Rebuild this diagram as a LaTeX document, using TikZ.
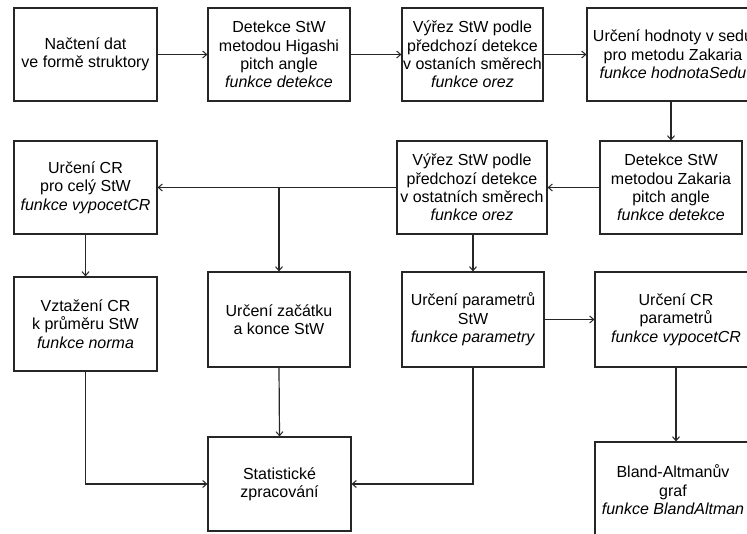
\documentclass[tikz,border=0pt]{standalone}
\usepackage{fontspec}
\setmainfont{Liberation Sans}
\usetikzlibrary{arrows.meta}
\begin{document}
\begin{tikzpicture}[x=1pt,y=-1pt,
  box/.style={draw=black!85, line width=1.2pt, rectangle, align=center, inner sep=0pt,
    font=\fontsize{16}{18.4}\selectfont, text=black},
  conn/.style={draw=black!85, line width=1.2pt, -{Straight Barb[length=4pt,width=7pt,line width=1pt]}},
  line/.style={draw=black!85, line width=1.2pt}]
\useasboundingbox (0,0) rectangle (747,533);
\clip (0,0) rectangle (747,533);
\fill[white] (0,0) rectangle (747,533);

\node[box, minimum width=143pt, minimum height=93pt] (A) at (85.5,54.5) {Načtení dat\\ve formě struktory};
\node[box, minimum width=142pt, minimum height=93pt] (B) at (279,54.5) {Detekce StW\\metodou Higashi\\pitch angle\\\textit{funkce detekce}};
\node[box, minimum width=141pt, minimum height=93pt] (C) at (472.5,54.5) {Výřez StW podle\\předchozí detekce\\v ostaních směrech\\\textit{funkce orez}};
\node[box, minimum width=172pt, minimum height=93pt] (D) at (673,54.5) {Určení hodnoty v sedu\\pro metodu Zakaria\\\textit{funkce hodnotaSedu}};

\node[box, minimum width=143pt, minimum height=93pt] (E) at (85.5,187.5) {Určení CR\\pro celý StW\\\textit{funkce vypocetCR}};
\node[box, minimum width=150pt, minimum height=93pt] (F) at (472,187.5) {Výřez StW podle\\předchozí detekce\\v ostatních směrech\\\textit{funkce orez}};
\node[box, minimum width=142pt, minimum height=93pt] (G) at (671,187.5) {Detekce StW\\metodou Zakaria\\pitch angle\\\textit{funkce detekce}};

\node[box, minimum width=143pt, minimum height=94pt] (J) at (85.5,324) {Vztažení CR\\k průměru StW\\\textit{funkce norma}};
\node[box, minimum width=142pt, minimum height=95pt] (H) at (279,319.5) {Určení začátku\\a konce StW};
\node[box, minimum width=142pt, minimum height=95pt] (I) at (473,319.5) {Určení parametrů\\StW\\\textit{funkce parametry}};
\node[box, minimum width=162pt, minimum height=95pt] (K) at (676,319.5) {Určení CR\\parametrů\\\textit{funkce vypocetCR}};

\node[box, minimum width=143pt, minimum height=94pt] (L) at (279.5,484) {Statistické\\zpracování};
\node[box, minimum width=156pt, minimum height=96pt] (M) at (673,490) {Bland-Altmanův\\graf\\\textit{funkce BlandAltman}};

\draw[conn] (A.east) -- (B.west);
\draw[conn] (B.east) -- (C.west);
\draw[conn] (C.east) -- (D.west);
\draw[conn] (G.north |- D.south) -- (G.north);
\draw[conn] (G.west) -- (F.east);
\draw[conn] (F.west) -- (E.east);
\coordinate (br) at (H.north |- F.west);
\draw[conn] (br) -- (H.north);
\draw[conn] (I.north |- F.south) -- (I.north);
\draw[conn] (E.south) -- (J.north);
\draw[conn] (I.east) -- (K.west);
\draw[conn] (K.south) -- (K.south |- M.north);
\draw[conn] (J.south) |- (L.west);
\draw[conn] (H.south) -- (L.north);
\draw[conn] (I.south) |- (L.east);
\end{tikzpicture}
\end{document}
